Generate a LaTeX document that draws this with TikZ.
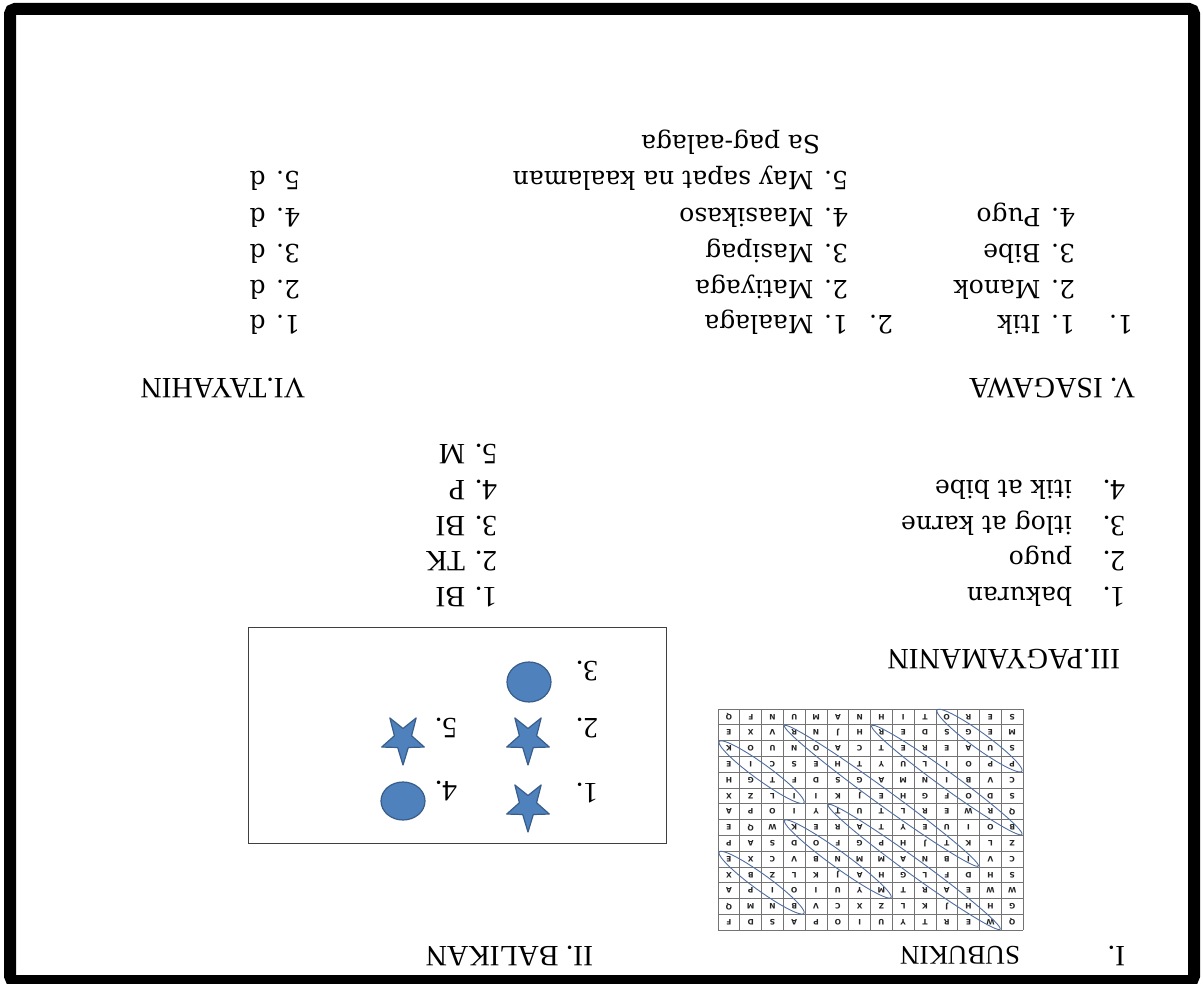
\documentclass[tikz,border=0pt]{standalone}
\usepackage{fontspec}
\setmainfont{Liberation Serif}
\newfontfamily\centfont{DejaVu Serif}
\newfontfamily\wsletfont{DejaVu Sans}
\definecolor{shpfill}{RGB}{79,129,189}
\definecolor{shpline}{RGB}{56,93,138}
\definecolor{ringcol}{RGB}{80,110,160}
\newcommand\wsell[4]{%
  \pgfmathsetmacro\wsXa{718+21.79*(#2-0.5)}%
  \pgfmathsetmacro\wsYa{709+15.79*(#1-0.5)}%
  \pgfmathsetmacro\wsXb{718+21.79*(#4-0.5)}%
  \pgfmathsetmacro\wsYb{709+15.79*(#3-0.5)}%
  \pgfmathsetmacro\wsCx{(\wsXa+\wsXb)/2}%
  \pgfmathsetmacro\wsCy{(\wsYa+\wsYb)/2}%
  \pgfmathsetmacro\wsAng{atan2(\wsYb-\wsYa,\wsXb-\wsXa)}%
  \pgfmathsetmacro\wsRa{veclen(\wsXb-\wsXa,\wsYb-\wsYa)/2+12}%
  \draw[wsring] plot[domain=0:360, samples=91]
    ({\wsCx+\wsRa*cos(\x)*cos(\wsAng)-8*sin(\x)*sin(\wsAng)},
     {\wsCy+\wsRa*cos(\x)*sin(\wsAng)+8*sin(\x)*cos(\wsAng)});%
}
\newcommand\shstar[2]{%
  \draw[shp] plot[samples at={0,...,9}]
    ({#1+0.86*(mod(\x,2)==0 ? 26 : 10.5)*cos(90+36*\x)},
     {#2+(mod(\x,2)==0 ? 26 : 10.5)*sin(90+36*\x)}) -- cycle;%
}
\begin{document}
\begin{tikzpicture}[x=1pt, y=-1pt,
  hd/.style={rotate=180, anchor=base west, inner sep=0pt, outer sep=0pt, font=\fontsize{29.5}{30}\selectfont},
  ct/.style={rotate=180, anchor=base west, inner sep=0pt, outer sep=0pt, font=\centfont\fontsize{25}{26}\selectfont},
  ctm/.style={rotate=180, anchor=base west, inner sep=0pt, outer sep=0pt, font=\centfont\fontsize{25}{27}\selectfont},
  wsl/.style={rotate=180, inner sep=0pt, font=\wsletfont\bfseries\fontsize{7.5}{7.5}\selectfont, text=black!85},
  wsring/.style={draw=ringcol, line width=0.9},
  shp/.style={fill=shpfill, draw=shpline, line width=1.2, line join=round}]
\useasboundingbox (0,0) rectangle (1203,984);
\fill[white] (0,0) rectangle (1203,984);
% page frame
\draw[line width=12, rounded corners=5] (10,9) rectangle (1194,981);

% ---- V / VI section
\node[hd] (h5) at (1135,379) {V. ISAGAWA};
\node[hd] (h6) at (305,379) {VI.TAYAHIN};
\node[ct] (n1) at (1133,316) {1.};
\node[ct] (a1) at (1075,316) {1. Itik};
\node[ct] (b0) at (893,316) {2.};
\node[ct] (b1) at (848,316) {1. Maalaga};
\node[ct] (c1) at (300,316) {1. d};
\node[ct] (a2) at (1075,281) {2. Manok};
\node[ct] (b2) at (848,281) {2. Matiyaga};
\node[ct] (c2) at (300,281) {2. d};
\node[ct] (a3) at (1075,245) {3. Bibe};
\node[ct] (b3) at (848,245) {3. Masipag};
\node[ct] (c3) at (300,245) {3. d};
\node[ct] (a4) at (1075,209) {4. Pugo};
\node[ct] (b4) at (848,209) {4. Maasikaso};
\node[ct] (c4) at (300,209) {4. d};
\node[ct] (b5) at (848,172) {5. May sapat na kaalaman};
\node[ct] (c5) at (300,172) {5. d};
\node[ct] (b6) at (820,136) {Sa pag-aalaga};

% ---- III section
\node[hd] (h3) at (1120,649) {III.PAGYAMANIN};
\node[hd] (m1n) at (1125,587) {1.};
\node[ctm] (m1) at (1072,587) {bakuran};
\node[hd] (m2n) at (1125,551) {2.};
\node[ctm] (m2) at (1072,551) {pugo};
\node[hd] (m3n) at (1125,516) {3.};
\node[ctm] (m3) at (1072,516) {itlog at karne};
\node[hd] (m4n) at (1125,480) {4.};
\node[ctm] (m4) at (1072,480) {itik at bibe};
\node[hd] (r1) at (497,587) {1. BI};
\node[hd] (r2) at (497,551) {2. TK};
\node[hd] (r3) at (497,516) {3. BI};
\node[hd] (r4) at (497,480) {4. P};
\node[hd] (r5) at (497,444) {5. M};

% ---- II shapes box
\draw[draw=black!75, line width=1] (248,627) rectangle (666,843);
\node[hd] (s3) at (598,661) {3.};
\node[hd] (s2) at (598,718) {2.};
\node[hd] (s1) at (598,783) {1.};
\node[hd] (s5) at (457,718) {5.};
\node[hd] (s4) at (457,781) {4.};
\draw[shp] (529,682) ellipse (22 and 20);
\draw[shp] (403,801) ellipse (22 and 19);
\shstar{528}{739}
\shstar{528}{806}
\shstar{403}{739}

% ---- bottom headings
\node[hd] (h1n) at (1125,946) {I.};
\node[hd, font=\fontsize{27}{28}\selectfont] (h1) at (1020,946) {SUBUKIN};
\node[hd] (h2) at (593,946) {II. BALIKAN};

% ---- word search grid
\foreach \k in {0,...,14} {
  \draw[black!55, line width=0.6] ({718+21.79*\k},709) -- ({718+21.79*\k},930.1);
  \draw[black!55, line width=0.6] (718,{709+15.79*\k}) -- (1023.1,{709+15.79*\k});
}
\foreach \i/\row in {
  1/{Q,W,E,R,T,Y,U,I,O,P,A,S,D,F},
  2/{G,H,H,J,K,L,Z,X,C,V,B,N,M,Q},
  3/{W,W,E,A,R,T,M,Y,U,I,O,I,P,A},
  4/{S,H,D,F,L,G,H,A,J,K,L,Z,B,X},
  5/{C,V,I,B,N,A,M,M,N,B,V,C,X,E},
  6/{Z,L,K,T,J,H,P,G,F,O,D,S,A,P},
  7/{B,O,I,U,E,Y,T,A,R,E,K,W,Q,E},
  8/{Q,R,W,E,R,L,T,U,T,Y,I,O,P,A},
  9/{S,D,O,F,G,H,E,J,K,I,I,L,Z,X},
  10/{C,V,B,I,N,M,A,G,S,D,F,T,G,H},
  11/{P,P,O,I,L,U,Y,T,H,E,S,C,I,E},
  12/{S,U,A,E,R,E,T,C,A,O,N,U,O,K},
  13/{M,E,G,S,D,E,R,H,J,N,R,V,X,E},
  14/{S,E,R,O,T,I,H,N,A,M,U,N,F,Q}} {
  \foreach \ch [count=\j] in \row {
    \node[wsl] (l-\i-\j) at ({718+21.79*(14.5-\j)},{709+15.79*(14.5-\i)}) {\ch};
  }
}
\wsell{1}{11}{4}{14}
\wsell{2}{8}{8}{14}
\wsell{2}{4}{10}{12}
\wsell{3}{1}{6}{4}
\wsell{7}{6}{14}{13}
\wsell{8}{4}{12}{8}
\wsell{10}{1}{13}{4}
\end{tikzpicture}
\end{document}
